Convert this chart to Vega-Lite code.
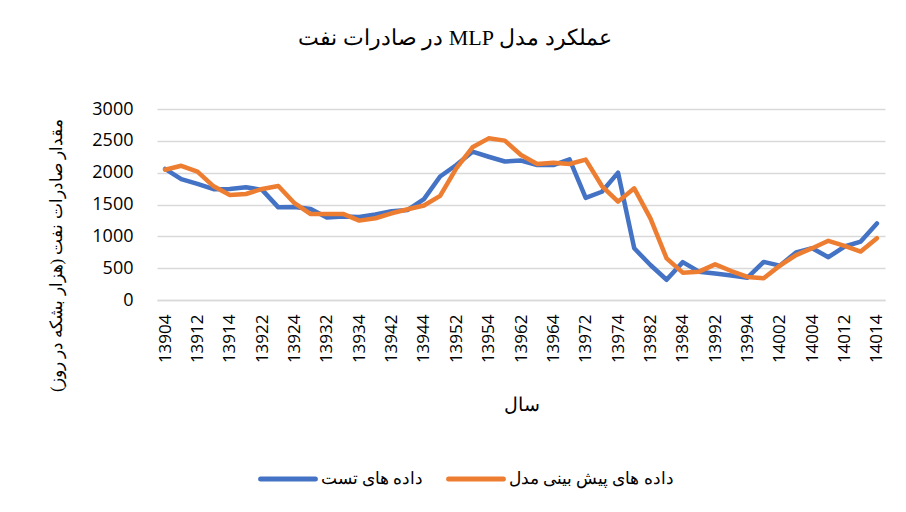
{
  "$schema": "https://vega.github.io/schema/vega-lite/v6.json",
  "width": 728,
  "height": 191,
  "autosize": {"type": "none"},
  "padding": {"left": 157, "top": 109, "right": 21, "bottom": 212},
  "background": "white",
  "title": {
    "text": "\u202bعملکرد مدل MLP در صادرات نفت\u202c",
    "font": "Liberation Serif",
    "fontSize": 22,
    "fontWeight": "normal",
    "color": "#000000",
    "anchor": "middle",
    "frame": "group",
    "dx": -66,
    "baseline": "middle",
    "offset": 40
  },
  "data": {
    "values": [
      {"period": "13904", "series": "داده های تست", "value": 2060},
      {"period": "13911", "series": "داده های تست", "value": 1900},
      {"period": "13912", "series": "داده های تست", "value": 1825},
      {"period": "13913", "series": "داده های تست", "value": 1740},
      {"period": "13914", "series": "داده های تست", "value": 1745},
      {"period": "13921", "series": "داده های تست", "value": 1770},
      {"period": "13922", "series": "داده های تست", "value": 1730},
      {"period": "13923", "series": "داده های تست", "value": 1455},
      {"period": "13924", "series": "داده های تست", "value": 1460},
      {"period": "13931", "series": "داده های تست", "value": 1430},
      {"period": "13932", "series": "داده های تست", "value": 1295},
      {"period": "13933", "series": "داده های تست", "value": 1310},
      {"period": "13934", "series": "داده های تست", "value": 1305},
      {"period": "13941", "series": "داده های تست", "value": 1345},
      {"period": "13942", "series": "داده های تست", "value": 1395},
      {"period": "13943", "series": "داده های تست", "value": 1415},
      {"period": "13944", "series": "داده های تست", "value": 1585},
      {"period": "13951", "series": "داده های تست", "value": 1940},
      {"period": "13952", "series": "داده های تست", "value": 2120},
      {"period": "13953", "series": "داده های تست", "value": 2330},
      {"period": "13954", "series": "داده های تست", "value": 2250},
      {"period": "13961", "series": "داده های تست", "value": 2175},
      {"period": "13962", "series": "داده های تست", "value": 2190},
      {"period": "13963", "series": "داده های تست", "value": 2120},
      {"period": "13964", "series": "داده های تست", "value": 2120},
      {"period": "13971", "series": "داده های تست", "value": 2210},
      {"period": "13972", "series": "داده های تست", "value": 1605},
      {"period": "13973", "series": "داده های تست", "value": 1700},
      {"period": "13974", "series": "داده های تست", "value": 2000},
      {"period": "13981", "series": "داده های تست", "value": 812},
      {"period": "13982", "series": "داده های تست", "value": 550},
      {"period": "13983", "series": "داده های تست", "value": 318},
      {"period": "13984", "series": "داده های تست", "value": 595},
      {"period": "13991", "series": "داده های تست", "value": 445},
      {"period": "13992", "series": "داده های تست", "value": 415},
      {"period": "13993", "series": "داده های تست", "value": 385},
      {"period": "13994", "series": "داده های تست", "value": 350},
      {"period": "14001", "series": "داده های تست", "value": 598},
      {"period": "14002", "series": "داده های تست", "value": 540},
      {"period": "14003", "series": "داده های تست", "value": 748},
      {"period": "14004", "series": "داده های تست", "value": 814},
      {"period": "14011", "series": "داده های تست", "value": 672},
      {"period": "14012", "series": "داده های تست", "value": 840},
      {"period": "14013", "series": "داده های تست", "value": 918},
      {"period": "14014", "series": "داده های تست", "value": 1202},
      {"period": "13904", "series": "داده های پیش بینی مدل", "value": 2045},
      {"period": "13911", "series": "داده های پیش بینی مدل", "value": 2108},
      {"period": "13912", "series": "داده های پیش بینی مدل", "value": 2016},
      {"period": "13913", "series": "داده های پیش بینی مدل", "value": 1785},
      {"period": "13914", "series": "داده های پیش بینی مدل", "value": 1649},
      {"period": "13921", "series": "داده های پیش بینی مدل", "value": 1665},
      {"period": "13922", "series": "داده های پیش بینی مدل", "value": 1744},
      {"period": "13923", "series": "داده های پیش بینی مدل", "value": 1790},
      {"period": "13924", "series": "داده های پیش بینی مدل", "value": 1520},
      {"period": "13931", "series": "داده های پیش بینی مدل", "value": 1350},
      {"period": "13932", "series": "داده های پیش بینی مدل", "value": 1352},
      {"period": "13933", "series": "داده های پیش بینی مدل", "value": 1352},
      {"period": "13934", "series": "داده های پیش بینی مدل", "value": 1247},
      {"period": "13941", "series": "داده های پیش بینی مدل", "value": 1284},
      {"period": "13942", "series": "داده های پیش بینی مدل", "value": 1362},
      {"period": "13943", "series": "داده های پیش بینی مدل", "value": 1425},
      {"period": "13944", "series": "داده های پیش بینی مدل", "value": 1485},
      {"period": "13951", "series": "داده های پیش بینی مدل", "value": 1635},
      {"period": "13952", "series": "داده های پیش بینی مدل", "value": 2068},
      {"period": "13953", "series": "داده های پیش بینی مدل", "value": 2398},
      {"period": "13954", "series": "داده های پیش بینی مدل", "value": 2539},
      {"period": "13961", "series": "داده های پیش بینی مدل", "value": 2503},
      {"period": "13962", "series": "داده های پیش بینی مدل", "value": 2278},
      {"period": "13963", "series": "داده های پیش بینی مدل", "value": 2136},
      {"period": "13964", "series": "داده های پیش بینی مدل", "value": 2157},
      {"period": "13971", "series": "داده های پیش بینی مدل", "value": 2136},
      {"period": "13972", "series": "داده های پیش بینی مدل", "value": 2205},
      {"period": "13973", "series": "داده های پیش بینی مدل", "value": 1790},
      {"period": "13974", "series": "داده های پیش بینی مدل", "value": 1545},
      {"period": "13981", "series": "داده های پیش بینی مدل", "value": 1754},
      {"period": "13982", "series": "داده های پیش بینی مدل", "value": 1283},
      {"period": "13983", "series": "داده های پیش بینی مدل", "value": 654},
      {"period": "13984", "series": "داده های پیش بینی مدل", "value": 429},
      {"period": "13991", "series": "داده های پیش بینی مدل", "value": 445},
      {"period": "13992", "series": "داده های پیش بینی مدل", "value": 560},
      {"period": "13993", "series": "داده های پیش بینی مدل", "value": 455},
      {"period": "13994", "series": "داده های پیش بینی مدل", "value": 362},
      {"period": "14001", "series": "داده های پیش بینی مدل", "value": 341},
      {"period": "14002", "series": "داده های پیش بینی مدل", "value": 540},
      {"period": "14003", "series": "داده های پیش بینی مدل", "value": 705},
      {"period": "14004", "series": "داده های پیش بینی مدل", "value": 814},
      {"period": "14011", "series": "داده های پیش بینی مدل", "value": 930},
      {"period": "14012", "series": "داده های پیش بینی مدل", "value": 850},
      {"period": "14013", "series": "داده های پیش بینی مدل", "value": 761},
      {"period": "14014", "series": "داده های پیش بینی مدل", "value": 970}
    ]
  },
  "mark": {"type": "line", "strokeWidth": 4.5, "strokeCap": "round", "strokeJoin": "round"},
  "encoding": {
    "x": {
      "field": "period",
      "type": "nominal",
      "sort": null,
      "scale": {"type": "point", "padding": 0.5},
      "axis": {
        "title": "سال",
        "titleFont": "Liberation Serif",
        "titleFontSize": 19,
        "titleFontWeight": "normal",
        "titleColor": "#000000",
        "titleBaseline": "middle",
        "titleY": 104,
        "values": ["13904","13912","13914","13922","13924","13932","13934","13942","13944","13952","13954","13962","13964","13972","13974","13982","13984","13992","13994","14002","14004","14012","14014"],
        "labelAngle": 270,
        "labelFont": "Open Sans",
        "labelFontSize": 17,
        "labelColor": "#000000",
        "labelPadding": 14,
        "ticks": false,
        "tickSize": 0,
        "grid": false,
        "domain": true,
        "domainColor": "#d9d9d9",
        "domainWidth": 1.3
      }
    },
    "y": {
      "field": "value",
      "type": "quantitative",
      "scale": {"domain": [0, 3000], "nice": false},
      "axis": {
        "title": "\u202bمقدار صادرات نفت (هزار بشکه در روز)\u202c",
        "titleFont": "Liberation Serif",
        "titleFontSize": 17,
        "titleFontWeight": "normal",
        "titleColor": "#000000",
        "titleAngle": 270,
        "titleBaseline": "middle",
        "titleAlign": "center",
        "titleX": -101,
        "titleY": 146,
        "values": [0, 500, 1000, 1500, 2000, 2500, 3000],
        "format": "d",
        "labelFont": "Open Sans",
        "labelFontSize": 18,
        "labelColor": "#000000",
        "labelPadding": 24,
        "ticks": false,
        "tickSize": 0,
        "domain": false,
        "grid": true,
        "gridColor": "#d9d9d9",
        "gridWidth": 1.3
      }
    },
    "color": {
      "field": "series",
      "type": "nominal",
      "scale": {
        "domain": ["داده های تست", "داده های پیش بینی مدل"],
        "range": ["#4472C4", "#ED7D31"]
      },
      "legend": {
        "title": null,
        "orient": "none",
        "direction": "horizontal",
        "legendX": 101,
        "legendY": 340,
        "symbolType": "stroke",
        "symbolSize": 3000,
        "symbolStrokeWidth": 5,
        "labelFont": "Liberation Serif",
        "labelFontSize": 16.5,
        "labelColor": "#000000",
        "labelOffset": 3,
        "labelLimit": 0,
        "columnPadding": 14,
        "gridAlign": "none",
        "encode": {"symbols": {"update": {"strokeCap": {"value": "round"}}}}
      }
    }
  },
  "config": {
    "view": {"stroke": null}
  }
}
